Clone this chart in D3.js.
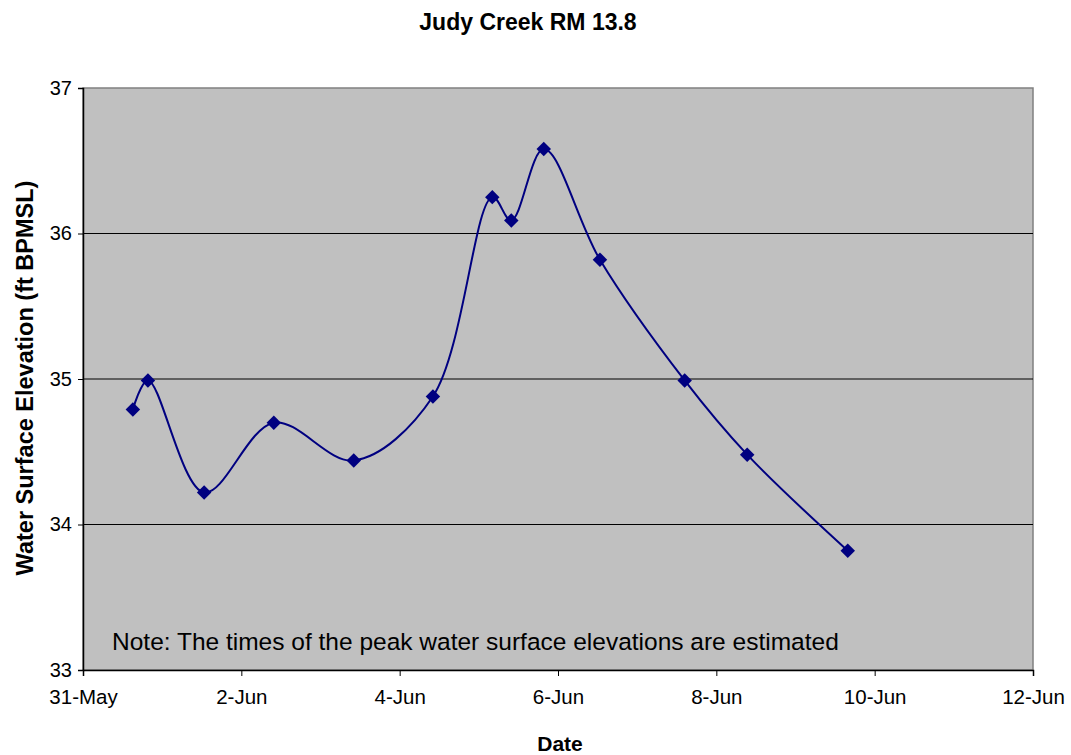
<!DOCTYPE html>
<html><head><meta charset="utf-8">
<script src="https://cdn.jsdelivr.net/npm/d3@7"></script>
<style>body{margin:0;background:#fff;} text{font-family:"Liberation Sans",Arial,sans-serif;}</style>
</head><body>
<svg id="c" width="1071" height="755"></svg>
<script>
// Data: day offsets from 31-May and elevations
const dayOffsets = [0.63, 0.82, 1.53, 2.41, 3.42, 4.42, 5.17, 5.41, 5.82, 6.53, 7.60, 8.39, 9.66];
const elevations = [34.79, 34.99, 34.22, 34.70, 34.44, 34.88, 36.25, 36.09, 36.58, 35.82, 34.99, 34.48, 33.82];
const xTickLabels = ["31-May","2-Jun","4-Jun","6-Jun","8-Jun","10-Jun","12-Jun"];
const xTickDays = [0,2,4,6,8,10,12];
const yTicks = [33,34,35,36,37];
const title = "Judy Creek RM 13.8";
const xTitle = "Date";
const yTitle = "Water Surface Elevation (ft BPMSL)";
const note = "Note: The times of the peak water surface elevations are estimated";

const svg = d3.select("#c");
const L = 83, R = 1033, T = 88, B = 670;
const x = d3.scaleLinear().domain([0,12]).range([L,R]);
const y = d3.scaleLinear().domain([33,37]).range([B,T]);

svg.append("rect").attr("x",L).attr("y",T).attr("width",R-L).attr("height",B-T)
  .attr("fill","#C0C0C0").attr("stroke","#808080").attr("stroke-width",1.5);

// gridlines
svg.append("g").selectAll("line").data(yTicks.filter(d=>d>33&&d<37)).join("line")
  .attr("x1",L).attr("x2",R).attr("y1",d=>y(d)).attr("y2",d=>y(d))
  .attr("stroke","#000").attr("stroke-width",1);

// axes
const yAxis = d3.axisLeft(y).tickValues(yTicks).tickSize(5).tickPadding(6).tickFormat(d3.format("d"));
const gy = svg.append("g").attr("transform",`translate(${L},0)`).call(yAxis);
gy.select(".domain").attr("stroke","#000").attr("stroke-width",1.5);
gy.selectAll("text").attr("font-size",20).attr("fill","#000").style("font-family","Liberation Sans, Arial");

const xAxis = d3.axisBottom(x).tickValues(xTickDays).tickSize(6).tickPadding(13)
  .tickFormat((d,i)=>xTickLabels[i]);
const gx = svg.append("g").attr("transform",`translate(0,${B})`).call(xAxis);
gx.select(".domain").attr("stroke","#000").attr("stroke-width",1.5);
gx.selectAll("text").attr("font-size",20.5).attr("fill","#000").style("font-family","Liberation Sans, Arial");

// line
const pts = dayOffsets.map((d,i)=>[x(d), y(elevations[i])]);
svg.append("path").attr("d", d3.line().curve(d3.curveCatmullRom.alpha(0.5))(pts))
  .attr("fill","none").attr("stroke","#000080").attr("stroke-width",2);

svg.append("g").selectAll("path").data(pts).join("path")
  .attr("d", d3.symbol().type(d3.symbolSquare).size(105))
  .attr("transform", d=>`translate(${d[0]},${d[1]}) rotate(45)`)
  .attr("fill","#000080");

// texts
svg.append("text").attr("x",528).attr("y",30).attr("text-anchor","middle")
  .attr("font-size",23).attr("font-weight","bold").text(title);
svg.append("text").attr("x",560).attr("y",751).attr("text-anchor","middle")
  .attr("font-size",21).attr("font-weight","bold").text(xTitle);
svg.append("text").attr("transform","translate(33,378) rotate(-90)").attr("text-anchor","middle")
  .attr("font-size",23.5).attr("font-weight","bold").text(yTitle);
svg.append("text").attr("x",112).attr("y",650).attr("font-size",24.5).text(note);
</script>
</body></html>
